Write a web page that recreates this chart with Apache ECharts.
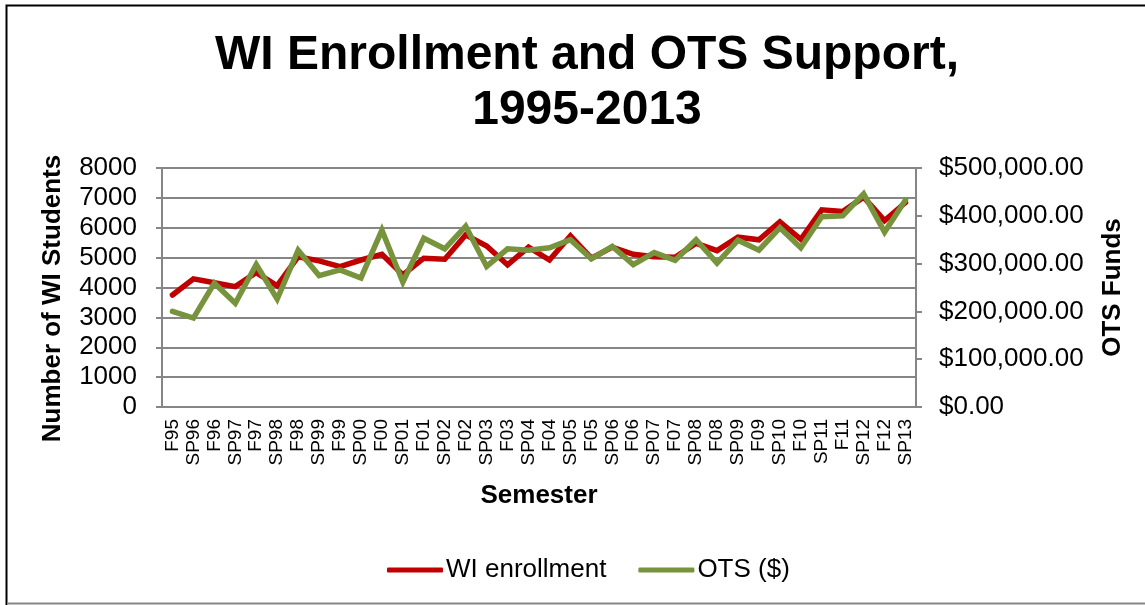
<!DOCTYPE html>
<html>
<head>
<meta charset="utf-8">
<script src="https://cdn.jsdelivr.net/npm/echarts@6/dist/echarts.min.js"></script>
<style>
  html, body { margin: 0; padding: 0; background: #fff; }
  #chart { width: 1145px; height: 605px; }
</style>
</head>
<body>
<div id="chart"></div>
<script>
var semesters = ['F95', 'SP96', 'F96', 'SP97', 'F97', 'SP98', 'F98', 'SP99', 'F99', 'SP00',
    'F00', 'SP01', 'F01', 'SP02', 'F02', 'SP03', 'F03', 'SP04', 'F04', 'SP05',
    'F05', 'SP06', 'F06', 'SP07', 'F07', 'SP08', 'F08', 'SP09', 'F09', 'SP10',
    'F10', 'SP11', 'F11', 'SP12', 'F12', 'SP13'];

var wiEnrollment = [3750, 4290, 4160, 4030, 4500, 4060, 5030, 4890, 4700, 4920,
    5110, 4420, 4980, 4945, 5760, 5390, 4755, 5350, 4920, 5730,
    4980, 5350, 5110, 5030, 5010, 5480, 5235, 5685, 5595, 6200,
    5615, 6600, 6545, 7025, 6240, 6845];

var otsFunds = [200000, 186000, 259000, 217000, 298000, 226000, 328000, 275000, 287000, 270000,
    370000, 261000, 353000, 331000, 378000, 294000, 331000, 328000, 333000, 350000,
    310000, 336000, 298000, 323000, 307000, 350000, 301000, 349000, 328000, 375000,
    333000, 398000, 400000, 446000, 366000, 433000];

var seriesNames = ['WI enrollment', 'OTS ($)'];

var font = '"Liberation Sans", Arial, sans-serif';
var gridGray = '#868686';

function money(v) {
    var s = Math.round(v).toString().replace(/\B(?=(\d{3})+(?!\d))/g, ',');
    return '$' + s + '.00';
}

var myChart = echarts.init(document.getElementById('chart'));

var option = {
    backgroundColor: '#fff',
    animation: false,
    textStyle: { fontFamily: font },
    title: {
        text: 'WI Enrollment and OTS Support,\n1995-2013',
        left: 582,
        textAlign: 'center',
        top: 23,
        textStyle: {
            fontFamily: font,
            fontSize: 48,
            fontWeight: 'bold',
            lineHeight: 55,
            color: '#000'
        }
    },
    graphic: [{
        type: 'rect',
        shape: { x: 6.5, y: 5.5, width: 1150, height: 620 },
        style: { fill: 'none', stroke: '#000', lineWidth: 2 },
        silent: true
    }, {
        type: 'line',
        shape: { x1: 7, y1: 603.5, x2: 1145, y2: 603.5 },
        style: { stroke: gridGray, lineWidth: 2 },
        silent: true
    }],
    legend: {
        data: seriesNames,
        left: 382,
        top: 552,
        icon: 'roundRect',
        itemWidth: 56,
        itemHeight: 5,
        itemGap: 32,
        textStyle: { fontFamily: font, fontSize: 26, color: '#000', padding: [0, 0, 0, -2] }
    },
    grid: {
        left: 162,
        right: 229,
        top: 168,
        bottom: 198
    },
    xAxis: {
        type: 'category',
        data: semesters,
        boundaryGap: true,
        name: 'Semester',
        nameLocation: 'middle',
        nameGap: 76,
        nameTextStyle: { fontFamily: font, fontSize: 26, fontWeight: 'bold', color: '#000' },
        axisLine: { lineStyle: { color: gridGray, width: 2 } },
        axisTick: { alignWithLabel: false, length: 6, lineStyle: { color: gridGray, width: 2 } },
        axisLabel: { rotate: 90, interval: 0, fontSize: 19, color: '#000', margin: 12, fontFamily: font },
        splitLine: { show: false }
    },
    yAxis: [{
        type: 'value',
        min: 0,
        max: 8000,
        interval: 1000,
        name: 'Number of WI Students',
        nameLocation: 'middle',
        nameGap: 96,
        nameTextStyle: { fontFamily: font, fontSize: 26, fontWeight: 'bold', color: '#000', padding: [0, 22, 0, 0] },
        axisLine: { show: true, lineStyle: { color: gridGray, width: 2 } },
        axisTick: { show: true, length: 6, lineStyle: { color: gridGray, width: 2 } },
        axisLabel: { fontSize: 26, color: '#000', margin: 25, fontFamily: font, formatter: function (v) { return String(v); } },
        splitLine: { show: true, lineStyle: { color: gridGray, width: 2 } }
    }, {
        type: 'value',
        min: 0,
        max: 500000,
        interval: 100000,
        position: 'right',
        name: 'OTS Funds',
        nameLocation: 'middle',
        nameGap: 184,
        nameTextStyle: { fontFamily: font, fontSize: 26, fontWeight: 'bold', color: '#000' },
        axisLine: { show: true, lineStyle: { color: gridGray, width: 2 } },
        axisTick: { show: true, length: 6, lineStyle: { color: gridGray, width: 2 } },
        axisLabel: { fontSize: 26, color: '#000', margin: 23, fontFamily: font, formatter: money },
        splitLine: { show: false }
    }],
    series: [{
        name: seriesNames[0],
        type: 'line',
        yAxisIndex: 0,
        data: wiEnrollment,
        symbol: 'none',
        color: '#C00000',
        lineStyle: { width: 5.5, color: '#C00000', join: 'miter', cap: 'round' }
    }, {
        name: seriesNames[1],
        type: 'line',
        yAxisIndex: 1,
        data: otsFunds,
        symbol: 'none',
        color: '#77933C',
        lineStyle: { width: 5.5, color: '#77933C', join: 'miter', cap: 'round' }
    }]
};

myChart.setOption(option);
</script>
</body>
</html>
